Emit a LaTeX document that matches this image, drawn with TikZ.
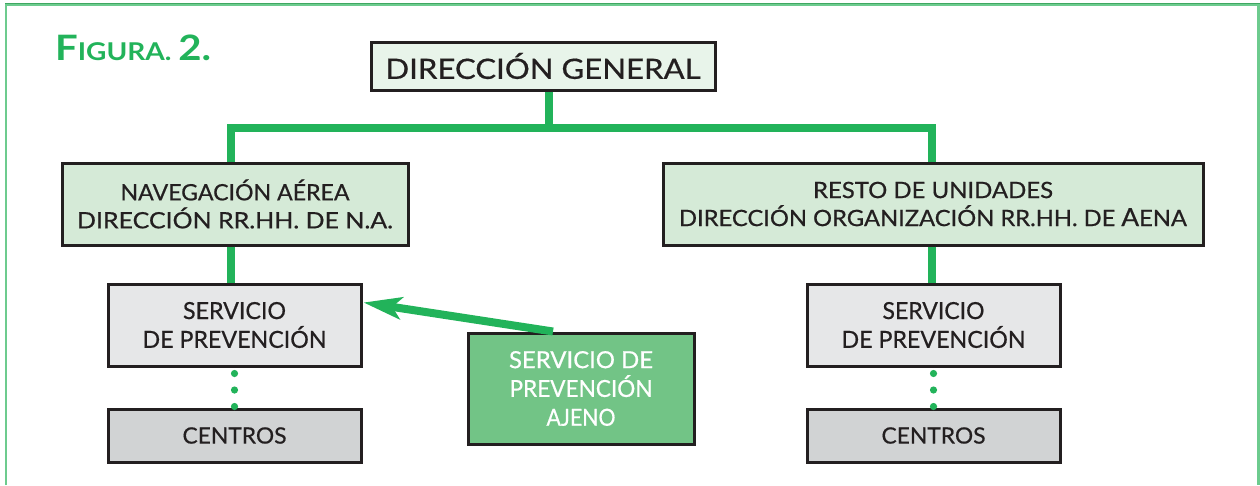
\documentclass[tikz,border=0pt]{standalone}
\usepackage{fontspec}
\usepackage{graphicx}
\setmainfont{Lato}
\newfontfamily\boxfnt{Lato}[FakeBold=0.6]
\usetikzlibrary{arrows.meta,calc}
\definecolor{aenagreen}{HTML}{22B35A}
\definecolor{framegreen}{HTML}{6DCB8E}
\definecolor{framedark}{HTML}{3FA862}
\definecolor{dgfill}{HTML}{E8F4EA}
\definecolor{unitfill}{HTML}{D5EAD7}
\definecolor{spfill}{HTML}{E6E7E8}
\definecolor{cenfill}{HTML}{D1D3D4}
\definecolor{ajfill}{HTML}{72C486}
\definecolor{boxline}{HTML}{231F20}
\newcommand{\fitw}[2]{\resizebox{#1pt}{\height}{#2}}
\tikzset{
  orgbox/.style={draw=boxline, line width=3pt, inner sep=0pt, align=center, text=boxline},
  boxfont/.style={font=\boxfnt\fontsize{22.5}{28}\selectfont},
  bigfont/.style={font=\boxfnt\fontsize{23.5}{28.8}\selectfont},
  conn/.style={draw=aenagreen, line width=8pt, line join=miter},
  dotmark/.style={fill=aenagreen},
  arr/.style={draw=aenagreen, line width=8pt, -{Stealth[length=38pt,width=22pt,inset=9pt]}},
}
\begin{document}
\begin{tikzpicture}[x=1pt,y=-1pt]
\useasboundingbox (0,0) rectangle (1260,485);
% frame
\draw[framegreen, line width=2.2pt] (6,485) -- (6,4.5) -- (1258.5,4.5) -- (1258.5,485);
\draw[framedark, line width=1.2pt] (5,3.6) -- (1259.5,3.6);
% title
\node[anchor=base west, inner sep=0pt, text=aenagreen, font=\bfseries] (title) at (55,60)
  {\fitw{156}{\fontsize{35}{35}\selectfont F\fontsize{24.5}{24.5}\selectfont IGURA. \fontsize{35}{35}\selectfont 2.}};
% boxes
\node[orgbox, fill=dgfill, minimum width=344pt, minimum height=48pt, font=\boxfnt\fontsize{28}{30}\selectfont] (dg) at (543,66)
  {\fitw{315}{DIRECCIÓN GENERAL}};
\node[orgbox, boxfont, fill=unitfill, minimum width=346pt, minimum height=82pt] (na) at (235,204)
  {\fitw{229}{NAVEGACIÓN AÉREA}\\\fitw{316}{DIRECCIÓN RR.HH. DE N.A.}};
\node[orgbox, boxfont, fill=unitfill, minimum width=540pt, minimum height=82pt] (resto) at (933,204)
  {\fitw{240}{RESTO DE UNIDADES}\\\fitw{508}{DIRECCIÓN ORGANIZACIÓN RR.HH. DE {\fontsize{25}{28}\selectfont A}ENA}};
\node[orgbox, bigfont, fill=spfill, minimum width=253pt, minimum height=82pt] (spl) at (234.5,325)
  {\fitw{103}{SERVICIO}\\\fitw{184}{DE PREVENCIÓN}};
\node[orgbox, bigfont, fill=spfill, minimum width=253pt, minimum height=82pt] (spr) at (933.5,325)
  {\fitw{102}{SERVICIO}\\\fitw{184}{DE PREVENCIÓN}};
\node[orgbox, boxfont, fill=cenfill, minimum width=253pt, minimum height=53pt] (cl) at (234.5,435.5) {\fitw{104}{CENTROS}};
\node[orgbox, boxfont, fill=cenfill, minimum width=253pt, minimum height=53pt] (cr) at (933.5,435.5) {\fitw{104}{CENTROS}};
% connectors
\draw[conn] ([xshift=6pt]dg.south) -- ++(0,36) coordinate (bj);
\draw[conn] ([xshift=-4pt]na.north) |- (bj) -| ([xshift=-1pt]resto.north);
\draw[conn] ([xshift=-4pt]na.south) -- ([xshift=-4pt]na.south |- spl.north);
\draw[conn] ([xshift=-1pt]resto.south) -- ([xshift=-1pt]resto.south |- spr.north);
\foreach \d in {6,22.5,39}{
  \fill[dotmark] ([yshift=-\d pt]spl.south) circle (3.6pt);
  \fill[dotmark] ([yshift=-\d pt]spr.south) circle (3.6pt);
}
% external service
\node[orgbox, bigfont, fill=ajfill, text=white, minimum width=226pt, minimum height=111pt] (aj) at (581,388.5)
  {\fitw{144}{SERVICIO DE}\\\fitw{143}{PREVENCIÓN}\\\fitw{69}{AJENO}};
\draw[arr] ([xshift=-28pt]aj.north) -- ([yshift=22.5pt,xshift=1pt]spl.east);
\end{tikzpicture}
\end{document}
